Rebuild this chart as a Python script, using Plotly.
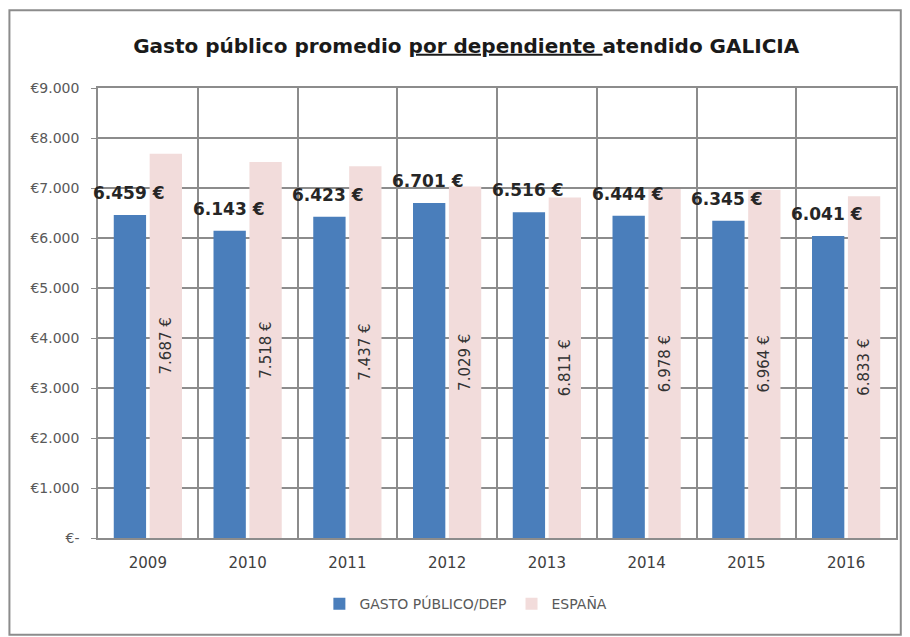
import plotly.graph_objects as go

# Data
years = ["2009", "2010", "2011", "2012", "2013", "2014", "2015", "2016"]
gasto_galicia = [6459, 6143, 6423, 6701, 6516, 6444, 6345, 6041]
gasto_espana = [7687, 7518, 7437, 7029, 6811, 6978, 6964, 6833]
y_ticks = [0, 1000, 2000, 3000, 4000, 5000, 6000, 7000, 8000, 9000]
y_tick_labels = ["€-", "€1.000", "€2.000", "€3.000", "€4.000",
                 "€5.000", "€6.000", "€7.000", "€8.000", "€9.000"]


def euro(v):
    return f"{v:,}".replace(",", ".") + " €"


fig = go.Figure()
fig.add_trace(go.Bar(
    x=years, y=gasto_galicia, name="GASTO PÚBLICO/DEP",
    marker=dict(color="#4a7ebb", line=dict(width=0)),
))
fig.add_trace(go.Bar(
    x=years, y=gasto_espana, name="ESPAÑA",
    marker=dict(color="#f2dcdb", line=dict(width=0)),
    text=[euro(v) for v in gasto_espana],
    textposition="inside", insidetextanchor="middle", textangle=-90,
    insidetextfont=dict(family="DejaVu Sans", size=15, color="#333333"),
))

# Bold value labels above the Galicia bars (x = category index)
for i, v in enumerate(gasto_galicia):
    fig.add_annotation(
        x=i, y=v, text=f"<b>{euro(v)}</b>", showarrow=False,
        xshift=-19, yshift=22, yanchor="middle",
        font=dict(family="DejaVu Sans", size=17, color="#262626"),
    )

# Outer chart border
fig.add_shape(type="rect", xref="paper", yref="paper",
              x0=-0.111, x1=1.006, y0=-0.215, y1=1.173,
              line=dict(color="#8c8c8c", width=2))

fig.update_layout(
    width=902, height=629,
    margin=dict(l=90, r=12, t=80, b=99),
    paper_bgcolor="white", plot_bgcolor="white",
    title=dict(
        text="Gasto público promedio <u>por dependiente </u>atendido GALICIA",
        x=0.508, xref="container", xanchor="center", y=0.94, yanchor="middle",
        font=dict(family="DejaVu Sans", size=20, color="#1a1a1a", weight="bold"),
    ),
    barmode="group", bargap=0.28, bargroupgap=0.1,
    showlegend=True,
    legend=dict(orientation="h", x=0.461, xanchor="center", y=-0.147,
                yanchor="middle", itemwidth=30,
                font=dict(family="DejaVu Sans", size=14, color="#595959")),
    font=dict(family="DejaVu Sans", color="#404040"),
)
fig.update_xaxes(
    type="category", range=[-0.5, len(years) - 0.5],
    tickson="boundaries", showgrid=True,
    gridcolor="#8c8c8c", gridwidth=1.5, showline=True, linecolor="#8c8c8c",
    linewidth=1.5, mirror=True, ticks="",
    tickfont=dict(family="DejaVu Sans", size=15, color="#404040"),
    ticklabelstandoff=10,
)
fig.update_yaxes(
    range=[0, 9000], tickvals=y_ticks, ticktext=y_tick_labels,
    showgrid=True, gridcolor="#8c8c8c", gridwidth=1.5, zeroline=False,
    showline=True, linecolor="#8c8c8c", linewidth=1.5, mirror=True,
    ticks="outside", ticklen=5, tickcolor="#8c8c8c",
    tickfont=dict(family="DejaVu Sans", size=14, color="#595959"),
    ticklabelstandoff=9,
)

fig.write_html("out.html")
